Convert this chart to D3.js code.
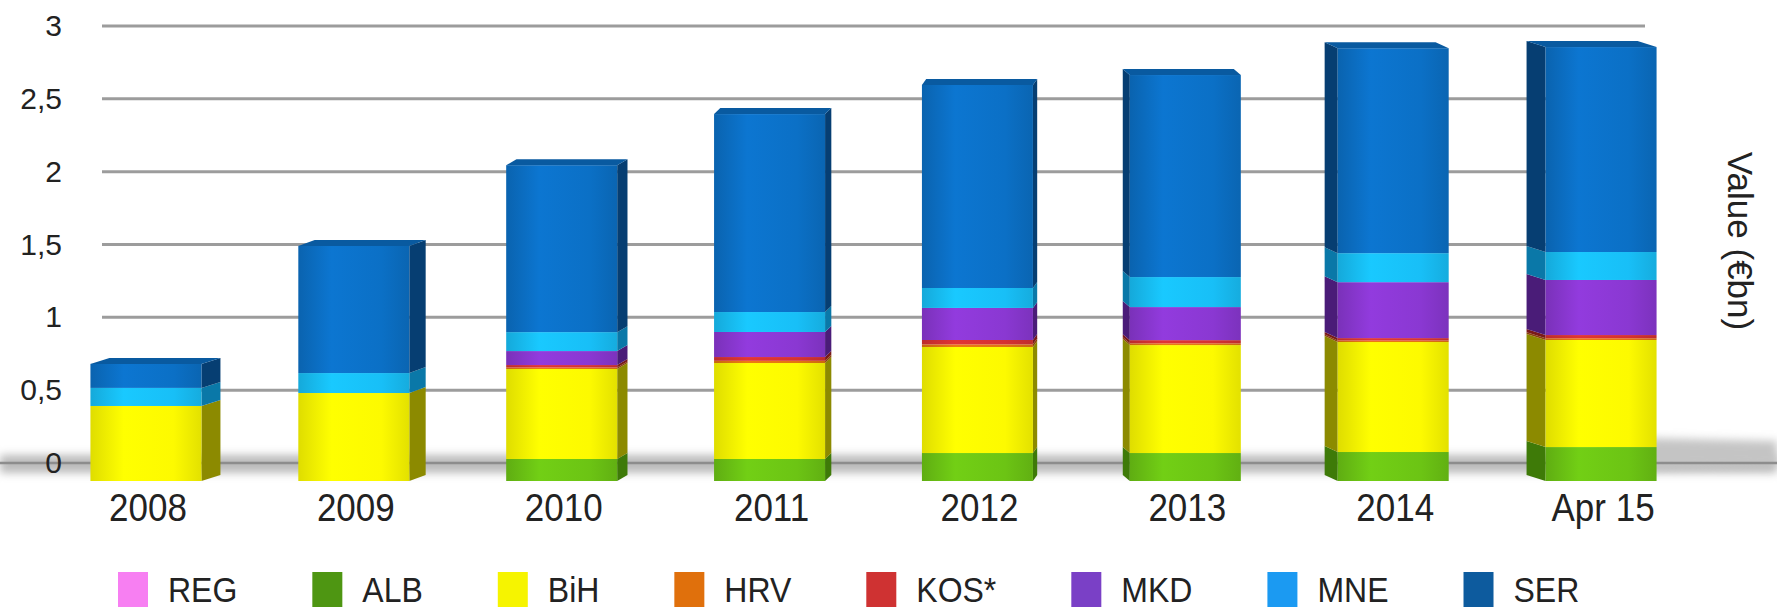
<!DOCTYPE html>
<html>
<head>
<meta charset="utf-8">
<script src="https://cdn.jsdelivr.net/npm/d3@7"></script>
<style>
  body { margin: 0; background: #fff; }
  svg { display: block; font-family: 'Liberation Sans', Arial, sans-serif; }
</style>
</head>
<body>
<svg id="chart" width="1777" height="610"></svg>
<script>
// data (values in €bn)
const categories = ['2008', '2009', '2010', '2011', '2012', '2013', '2014', 'Apr 15'];
const seriesNames = ['REG', 'ALB', 'BiH', 'HRV', 'KOS*', 'MKD', 'MNE', 'SER'];
const REG = [0, 0, 0, 0, 0, 0, 0, 0];
const ALB = [0, 0, 0.151, 0.151, 0.192, 0.192, 0.199, 0.233];
const BiH = [0.515, 0.604, 0.618, 0.659, 0.728, 0.741, 0.755, 0.735];
const HRV = [0, 0, 0.01, 0.015, 0.018, 0.012, 0.01, 0.012];
const KOS = [0, 0, 0.017, 0.026, 0.03, 0.022, 0.017, 0.022];
const MKD = [0, 0, 0.096, 0.172, 0.22, 0.227, 0.384, 0.378];
const MNE = [0.124, 0.137, 0.13, 0.137, 0.137, 0.206, 0.199, 0.192];
const SER = [0.165, 0.873, 1.146, 1.359, 1.394, 1.387, 1.407, 1.407];
const yTicks = [0, 0.5, 1, 1.5, 2, 2.5, 3];

const seriesValues = [REG, ALB, BiH, HRV, KOS, MKD, MNE, SER];

// front / side / legend colours per series
const frontColors = ['#f57ff0', '#6cc414', '#fdfa00', '#e27410', '#d53232', '#8a38d2', '#18bff7', '#0b70c6'];
const sideColors = ['#a050a0', '#3e7a08', '#8c8a00', '#8a4408', '#7a1a1a', '#4a1c78', '#0a78a8', '#063e72'];
const legendColors = ['#f77ff2', '#4e9612', '#f6f400', '#e0700c', '#cf3232', '#7a40c6', '#1b9af2', '#0d5b9e'];

const svg = d3.select('#chart');
const defs = svg.append('defs');

const x = d3.scaleBand()
  .domain(categories)
  .range([42, 1705])
  .paddingInner(0.466)
  .paddingOuter(0.233);

// back wall (gridlines) and the front plane of the bars
const yGrid = d3.scaleLinear().domain([0, 3]).range([463, 26]);
const yBar = d3.scaleLinear().domain([0, 3]).range([481, 44]);

const vanishX = 1080;
const depthY = 6;

const locale = d3.formatLocale({ decimal: ',', thousands: '.', grouping: [3], currency: ['€', ''] });
const fmt = locale.format('~g');

// side face width grows away from the vanishing point
const sideWidth = (cx) => {
  const dist = Math.abs(cx - vanishX);
  if (cx < vanishX) return 4 + 15 * Math.min(1, (dist / 800) ** 2);
  return 4 + 15 * Math.min(1, dist / 520);
};

// blur for floor shadow
defs.append('filter')
  .attr('id', 'blur')
  .attr('x', '-10%').attr('y', '-200%')
  .attr('width', '120%').attr('height', '500%')
  .append('feGaussianBlur')
  .attr('stdDeviation', 4);

// gradients for bar fronts
seriesNames.forEach((name, i) => {
  const g = defs.append('linearGradient')
    .attr('id', `grad-${i}`)
    .attr('x1', '0%').attr('x2', '100%');
  const base = d3.color(frontColors[i]);
  g.append('stop').attr('offset', '0%').attr('stop-color', base.darker(0.35));
  g.append('stop').attr('offset', '30%').attr('stop-color', base.brighter(0.15));
  g.append('stop').attr('offset', '75%').attr('stop-color', base);
  g.append('stop').attr('offset', '100%').attr('stop-color', base.darker(0.3));
});

// floor shadow
svg.append('rect')
  .attr('x', 0)
  .attr('y', yGrid(0) - 8)
  .attr('width', 1777)
  .attr('height', 18)
  .attr('fill', '#bbbbbb')
  .attr('filter', 'url(#blur)');

svg.append('polygon')
  .attr('points', `1600,${yGrid(0) - 26} 1777,${yGrid(0) - 22} 1777,${yGrid(0) + 2} 1600,${yGrid(0) + 6}`)
  .attr('fill', '#c4c4c4')
  .attr('filter', 'url(#blur)');

svg.append('line')
  .attr('x1', 0)
  .attr('x2', 1777)
  .attr('y1', yGrid(0))
  .attr('y2', yGrid(0))
  .attr('stroke', '#8d8d8d')
  .attr('stroke-width', 2.5);

// gridlines
svg.append('g')
  .selectAll('line')
  .data(yTicks.filter((d) => d > 0))
  .enter()
  .append('line')
  .attr('x1', 102)
  .attr('x2', 1645)
  .attr('y1', (d) => yGrid(d))
  .attr('y2', (d) => yGrid(d))
  .attr('stroke', '#9c9c9c')
  .attr('stroke-width', 3);

// y axis labels
const gY = svg.append('g')
  .attr('transform', 'translate(102,0)')
  .call(d3.axisLeft(yGrid).tickValues(yTicks).tickSize(0).tickPadding(40).tickFormat(fmt));
gY.select('.domain').remove();
gY.selectAll('text')
  .attr('font-size', '30px')
  .attr('font-family', "'Liberation Sans', Arial, sans-serif")
  .attr('fill', '#222');

// stacked bars
const rows = categories.map((c, i) => {
  const row = { cat: c };
  seriesNames.forEach((s, j) => { row[s] = seriesValues[j][i]; });
  return row;
});

const stacked = d3.stack().keys(seriesNames)(rows);

categories.forEach((cat, ci) => {
  const x0 = x(cat);
  const x1 = x0 + x.bandwidth();
  const cx = x0 + x.bandwidth() / 2;
  const side = sideWidth(cx);
  const onRight = cx < vanishX;
  const g = svg.append('g').attr('class', 'bar');

  const segs = stacked
    .map((layer, li) => ({ li, y0: layer[ci][0], y1: layer[ci][1] }))
    .filter((s) => s.y1 - s.y0 > 0);

  segs.forEach((s) => {
    const yTop = yBar(s.y1);
    const yBot = yBar(s.y0);
    const ex = onRight ? x1 : x0;
    const sx = onRight ? x1 + side : x0 - side;
    g.append('polygon')
      .attr('points', `${ex},${yTop} ${sx},${yTop - depthY} ${sx},${yBot - depthY} ${ex},${yBot}`)
      .attr('fill', sideColors[s.li]);
    g.append('rect')
      .attr('x', x0)
      .attr('y', yTop)
      .attr('width', x.bandwidth())
      .attr('height', yBot - yTop)
      .attr('fill', `url(#grad-${s.li})`);
  });

  // top face
  const top = segs[segs.length - 1];
  const yT = yBar(top.y1);
  const dx = onRight ? side : -side;
  g.append('polygon')
    .attr('points', `${x0},${yT} ${x1},${yT} ${x1 + dx},${yT - depthY} ${x0 + dx},${yT - depthY}`)
    .attr('fill', d3.color(frontColors[top.li]).darker(0.6));
});

// x labels
svg.append('g')
  .selectAll('text')
  .data(categories)
  .enter()
  .append('text')
  .attr('transform', (d) => `translate(${x(d) + x.bandwidth() / 2 + 2},521) scale(1,1.1)`)
  .attr('text-anchor', 'middle')
  .attr('font-size', '35px')
  .attr('fill', '#222')
  .text((d) => d);

// axis title
svg.append('text')
  .attr('transform', 'translate(1728,241) rotate(90)')
  .attr('text-anchor', 'middle')
  .attr('font-size', '35px')
  .attr('fill', '#222')
  .text('Value (€bn)');

// legend
const legend = svg.append('g');
let lx = 118;
seriesNames.forEach((name, i) => {
  legend.append('rect')
    .attr('x', lx)
    .attr('y', 572)
    .attr('width', 30)
    .attr('height', 35)
    .attr('fill', legendColors[i]);
  const t = legend.append('text')
    .attr('transform', `translate(${lx + 50},602) scale(1,1.1)`)
    .attr('font-size', '32px')
    .attr('fill', '#222')
    .text(name);
  lx += 50 + t.node().getComputedTextLength() + 75;
});
</script>
</body>
</html>
